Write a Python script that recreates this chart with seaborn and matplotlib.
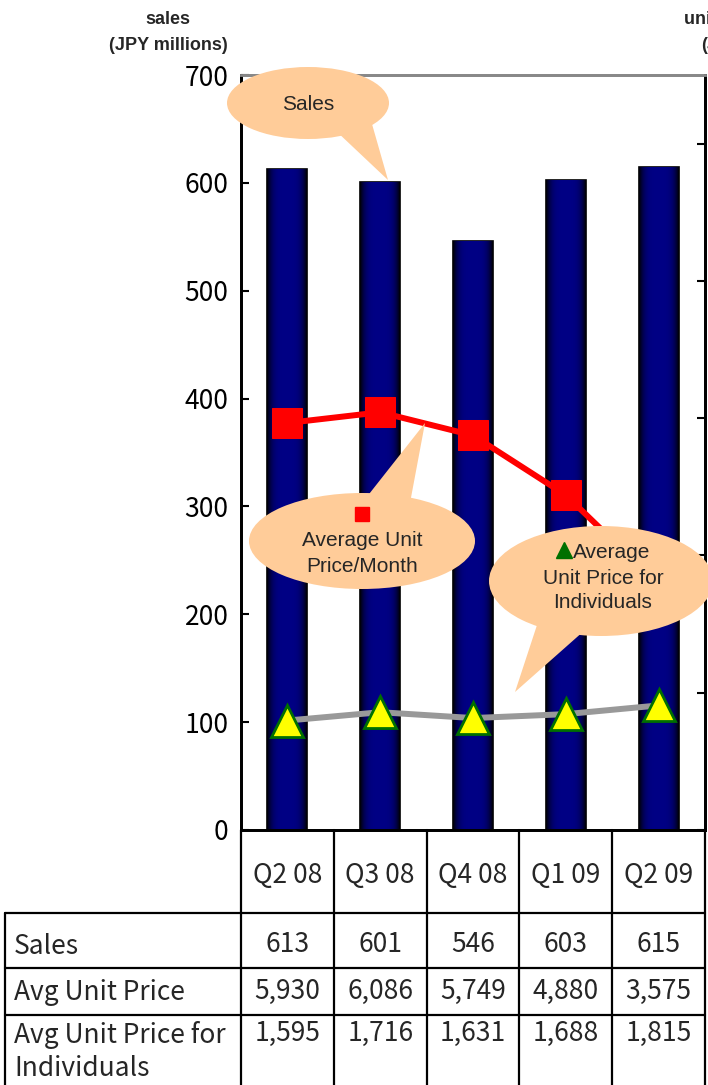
import numpy as np
import pandas as pd
import matplotlib
matplotlib.use("Agg")
import matplotlib.pyplot as plt
import seaborn as sns
from matplotlib.patches import Ellipse, Polygon

# ---- data -------------------------------------------------------------
quarters = ["Q2 08", "Q3 08", "Q4 08", "Q1 09", "Q2 09"]
sales = [613, 601, 546, 603, 615]                      # JPY millions
avg_unit_price = [5930, 6086, 5749, 4880, 3575]        # JPY / month
avg_price_individuals = [1595, 1716, 1631, 1688, 1815] # JPY
row_labels = [["Sales"], ["Avg Unit Price"], ["Avg Unit Price for", "Individuals"]]
sales_ticks = list(range(0, 701, 100))
price_ticks = list(range(0, 10001, 2000))

# ---- canvas -------------------------------------------------------------
W, H = 708, 1085
sns.set_theme(style="white")
plt.rcParams["font.family"] = ["Liberation Sans", "DejaVu Sans"]
JP = ["Noto Sans CJK JP", "DejaVu Sans"]

fig = plt.figure(figsize=(W / 100, H / 100), dpi=100)
L, R, T, B = 241, 705, 75, 830
ax = fig.add_axes([L / W, 1 - B / H, (R - L) / W, (B - T) / H])

df = pd.DataFrame({"quarter": quarters, "sales": sales,
                   "price": avg_unit_price, "indiv": avg_price_individuals})

# ---- sales bars with a dark-edged navy shading -----------------------------
sns.barplot(data=df, x="quarter", y="sales", color="#000080", width=0.43,
            edgecolor="black", linewidth=1.2, saturation=1, ax=ax)
xs = np.linspace(-1, 1, 64)
shade = 1 - np.abs(xs) ** 4
grad = np.zeros((1, 64, 3))
grad[0, :, 2] = 0.50 * shade + 0.02
for p in list(ax.patches):
    x0, w, h = p.get_x(), p.get_width(), p.get_height()
    im = ax.imshow(grad, extent=[x0, x0 + w, 0, h], aspect="auto",
                   interpolation="bilinear", zorder=p.get_zorder() + 0.1)
    im.set_clip_path(p)
ax.set_xlim(-0.5, 4.5)
ax.set_ylim(0, 700)
ax.set_yticks(sales_ticks)
ax.set_xticks([])
ax.set_xlabel("")
ax.set_ylabel("")
ax.tick_params(axis="y", direction="in", length=6, width=1.5, pad=9,
               labelsize=19, colors="black", left=True)
for lab in ax.get_yticklabels():
    lab.set_family(JP)

# ---- unit price lines on the secondary axis ---------------------------
ax2 = ax.twinx()
sns.lineplot(x=np.arange(len(quarters)), y=avg_unit_price, ax=ax2, sort=False,
             color="#FF0000", linewidth=4.3, marker="s", markersize=22,
             markeredgecolor="#FF0000")
sns.lineplot(x=np.arange(len(quarters)), y=avg_price_individuals, ax=ax2,
             sort=False, color="#999999", linewidth=4.3, marker="^",
             markersize=23, markerfacecolor="#FFFF00",
             markeredgecolor="#007000", markeredgewidth=2)
ax2.set_xlim(-0.5, 4.5)
ax2.set_ylim(0, 11000)
ax2.set_yticks(price_ticks)
ax2.tick_params(axis="y", direction="in", length=6, width=1.5,
                labelright=False, right=True, colors="black")
ax2.set_ylabel("")

for a in (ax, ax2):
    a.grid(False)
    for s in ("left", "right", "bottom"):
        a.spines[s].set_color("black")
        a.spines[s].set_linewidth(2)
        a.spines[s].set_visible(True)
    a.spines["top"].set_color("#888888")
    a.spines["top"].set_linewidth(2)

# ---- overlay in pixel coordinates: titles, callouts, table --------------
ov = fig.add_axes([0, 0, 1, 1])
ov.set_xlim(0, W)
ov.set_ylim(H, 0)
ov.axis("off")

ov.text(168, 19, "sales", ha="center", va="center", fontsize=13, fontweight="bold")
ov.text(168, 45, "(JPY millions)", ha="center", va="center", fontsize=13, fontweight="bold")
# secondary axis title sits at the right edge of the canvas
ov.text(724, 19, "unit price", ha="center", va="center", fontsize=13, fontweight="bold")
ov.text(724, 45, "(JPY)", ha="center", va="center", fontsize=13, fontweight="bold")

peach = "#FFCC99"


def callout(cx, cy, w, h, tail):
    ov.add_patch(Polygon(tail, closed=True, facecolor=peach, edgecolor="none",
                         zorder=10, clip_on=False))
    ov.add_patch(Ellipse((cx, cy), w, h, facecolor=peach, edgecolor="none",
                         zorder=10, clip_on=False))


callout(308, 103, 162, 72, [(335, 130), (372, 124), (388, 180)])
ov.text(308, 104, "Sales", ha="center", va="center", fontsize=15, zorder=11)

callout(362, 541, 226, 96, [(362, 503), (410, 503), (425, 423)])
ov.plot([362], [514], marker="s", markersize=10, color="#FF0000",
        linestyle="none", zorder=11)
ov.text(362, 540, "Average Unit", ha="center", va="center", fontsize=15, zorder=11)
ov.text(362, 566, "Price/Month", ha="center", va="center", fontsize=15, zorder=11)

callout(601, 581, 224, 110, [(538, 622), (585, 630), (515, 692)])
ov.plot([564], [550], marker="^", markersize=12, color="#007000",
        linestyle="none", zorder=11)
ov.text(573, 553, "Average", ha="left", va="center", fontsize=15, zorder=11)
ov.text(603, 578, "Unit Price for", ha="center", va="center", fontsize=15, zorder=11)
ov.text(603, 603, "Individuals", ha="center", va="center", fontsize=15, zorder=11)

# table grid
edges = np.linspace(L, R, len(quarters) + 1)
centers = (edges[:-1] + edges[1:]) / 2
row_y = [913, 968, 1015, H]
lw = 1.6
for x in edges:
    ov.plot([x, x], [B, H], color="black", lw=lw)
ov.plot([5, 5], [913, H], color="black", lw=lw)
for y in row_y[:-1]:
    ov.plot([5, R], [y, y], color="black", lw=lw)

for c, q in zip(centers, quarters):
    ov.text(c, 875, q, ha="center", va="center", fontsize=19, family=JP)

value_rows = [sales, avg_unit_price, avg_price_individuals]
label_y = [[947], [993], [1035, 1068]]
value_y = [944, 991, 1033]
for lines, lys, vy, vals in zip(row_labels, label_y, value_y, value_rows):
    for txt, ly in zip(lines, lys):
        ov.text(14, ly, txt, ha="left", va="center", fontsize=19, family=JP)
    for c, v in zip(centers, vals):
        ov.text(c, vy, f"{v:,}", ha="center", va="center", fontsize=19, family=JP)

fig.savefig("out.png", dpi=100)
